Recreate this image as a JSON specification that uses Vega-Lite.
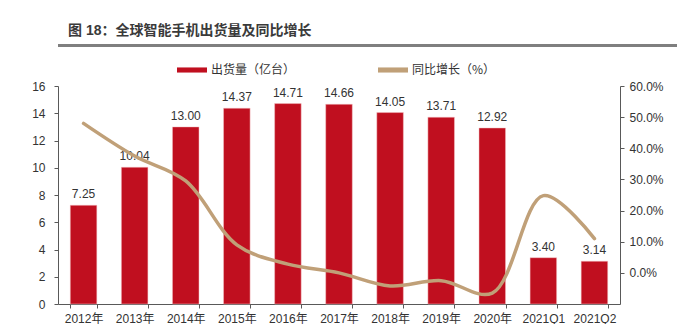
{
  "$schema": "https://vega.github.io/schema/vega-lite/v6.json",
  "padding": {"left": 10, "top": 24, "right": 0, "bottom": 0},
  "background": "white",
  "config": {
    "font": "Liberation Sans, Noto Sans CJK SC",
    "view": {"stroke": null}
  },
  "columns": 1,
  "align": "none",
  "bounds": "full",
  "spacing": 8,
  "resolve": {"scale": {"color": "independent"}, "legend": {"color": "independent"}},
  "concat": [
    {
      "width": 667,
      "height": 3,
      "view": {"fill": "#7f7f7f", "stroke": null},
      "title": {
        "text": "图 18：全球智能手机出货量及同比增长",
        "anchor": "start",
        "frame": "group",
        "dx": 10,
        "offset": 6,
        "fontSize": 14,
        "fontWeight": "bold",
        "font": "Liberation Sans, Noto Sans CJK SC",
        "color": "#3a3a3a"
      },
      "data": {"values": [{"k": 1}]},
      "mark": {"type": "point", "opacity": 0, "size": 1},
      "encoding": {}
    },
    {
      "width": 562,
      "height": 218,
      "data": {
        "values": [
          {"cat": "2012年", "shipments": 7.25, "growth": 0.48},
          {"cat": "2013年", "shipments": 10.04, "growth": 0.375},
          {"cat": "2014年", "shipments": 13.0, "growth": 0.295},
          {"cat": "2015年", "shipments": 14.37, "growth": 0.09},
          {"cat": "2016年", "shipments": 14.71, "growth": 0.028},
          {"cat": "2017年", "shipments": 14.66, "growth": 0.0},
          {"cat": "2018年", "shipments": 14.05, "growth": -0.042},
          {"cat": "2019年", "shipments": 13.71, "growth": -0.025},
          {"cat": "2020年", "shipments": 12.92, "growth": -0.065},
          {"cat": "2021Q1", "shipments": 3.4, "growth": 0.248},
          {"cat": "2021Q2", "shipments": 3.14, "growth": 0.11}
        ]
      },
      "encoding": {
        "x": {
          "field": "cat",
          "type": "nominal",
          "sort": null,
          "title": null,
          "scale": {"paddingInner": 0.48, "paddingOuter": 0.24},
          "axis": {
            "labelAngle": 0,
            "labelFontSize": 12,
            "labelColor": "#333333",
            "domainColor": "#595959",
            "tickColor": "#595959",
            "tickBand": "extent",
            "tickSize": 4,
            "labelPadding": 5,
            "grid": false
          }
        }
      },
      "layer": [
        {
          "encoding": {
            "y": {
              "field": "shipments",
              "type": "quantitative",
              "title": null,
              "scale": {"domain": [0, 16], "nice": false},
              "axis": {
                "values": [0, 2, 4, 6, 8, 10, 12, 14, 16],
                "grid": false,
                "labelFontSize": 12,
                "labelColor": "#333333",
                "domainColor": "#595959",
                "tickColor": "#595959",
                "tickSize": 4,
                "labelPadding": 9,
                "minExtent": 48,
                "maxExtent": 48
              }
            }
          },
          "layer": [
            {
              "mark": {"type": "bar", "stroke": "#f4c6c9", "strokeWidth": 0.5},
              "encoding": {
                "color": {
                  "datum": "出货量（亿台）",
                  "type": "nominal",
                  "scale": {
                    "domain": ["出货量（亿台）", "同比增长（%）"],
                    "range": ["#C00F1F", "#C0A078"]
                  },
                  "legend": {
                    "title": null,
                    "orient": "none",
                    "legendX": 119,
                    "legendY": -31,
                    "direction": "horizontal",
                    "columns": 2,
                    "columnPadding": 82,
                    "symbolType": "M-1,-0.17H1V0.17H-1Z",
                    "symbolSize": 900,
                    "symbolStrokeWidth": 0,
                    "labelFont": "Noto Sans CJK SC",
                    "labelFontSize": 12,
                    "labelColor": "#333333",
                    "labelOffset": 4,
                    "encode": {
                      "symbols": {
                        "update": {
                          "fill": {"signal": "datum.value === '出货量（亿台）' ? '#C00F1F' : '#C0A078'"},
                          "stroke": {"value": "transparent"},
                          "strokeWidth": {"value": 0},
                          "opacity": {"value": 1}
                        }
                      }
                    }
                  }
                }
              }
            },
            {
              "mark": {"type": "text", "baseline": "alphabetic", "dy": -7, "fontSize": 12, "color": "#333333"},
              "encoding": {
                "text": {"field": "shipments", "type": "quantitative", "format": ".2f"}
              }
            }
          ]
        },
        {
          "mark": {"type": "line", "interpolate": "catmull-rom", "strokeWidth": 3.5, "strokeCap": "round"},
          "encoding": {
            "y": {
              "field": "growth",
              "type": "quantitative",
              "title": null,
              "scale": {"domain": [-0.1, 0.6], "nice": false, "zero": false},
              "axis": {
                "orient": "right",
                "values": [0, 0.1, 0.2, 0.3, 0.4, 0.5, 0.6],
                "format": ".1%",
                "grid": false,
                "labelFontSize": 12,
                "labelColor": "#333333",
                "domainColor": "#595959",
                "tickColor": "#595959",
                "tickSize": 4,
                "labelPadding": 5
              }
            },
            "color": {"datum": "同比增长（%）", "type": "nominal"}
          }
        }
      ],
      "resolve": {"scale": {"y": "independent"}}
    }
  ]
}
